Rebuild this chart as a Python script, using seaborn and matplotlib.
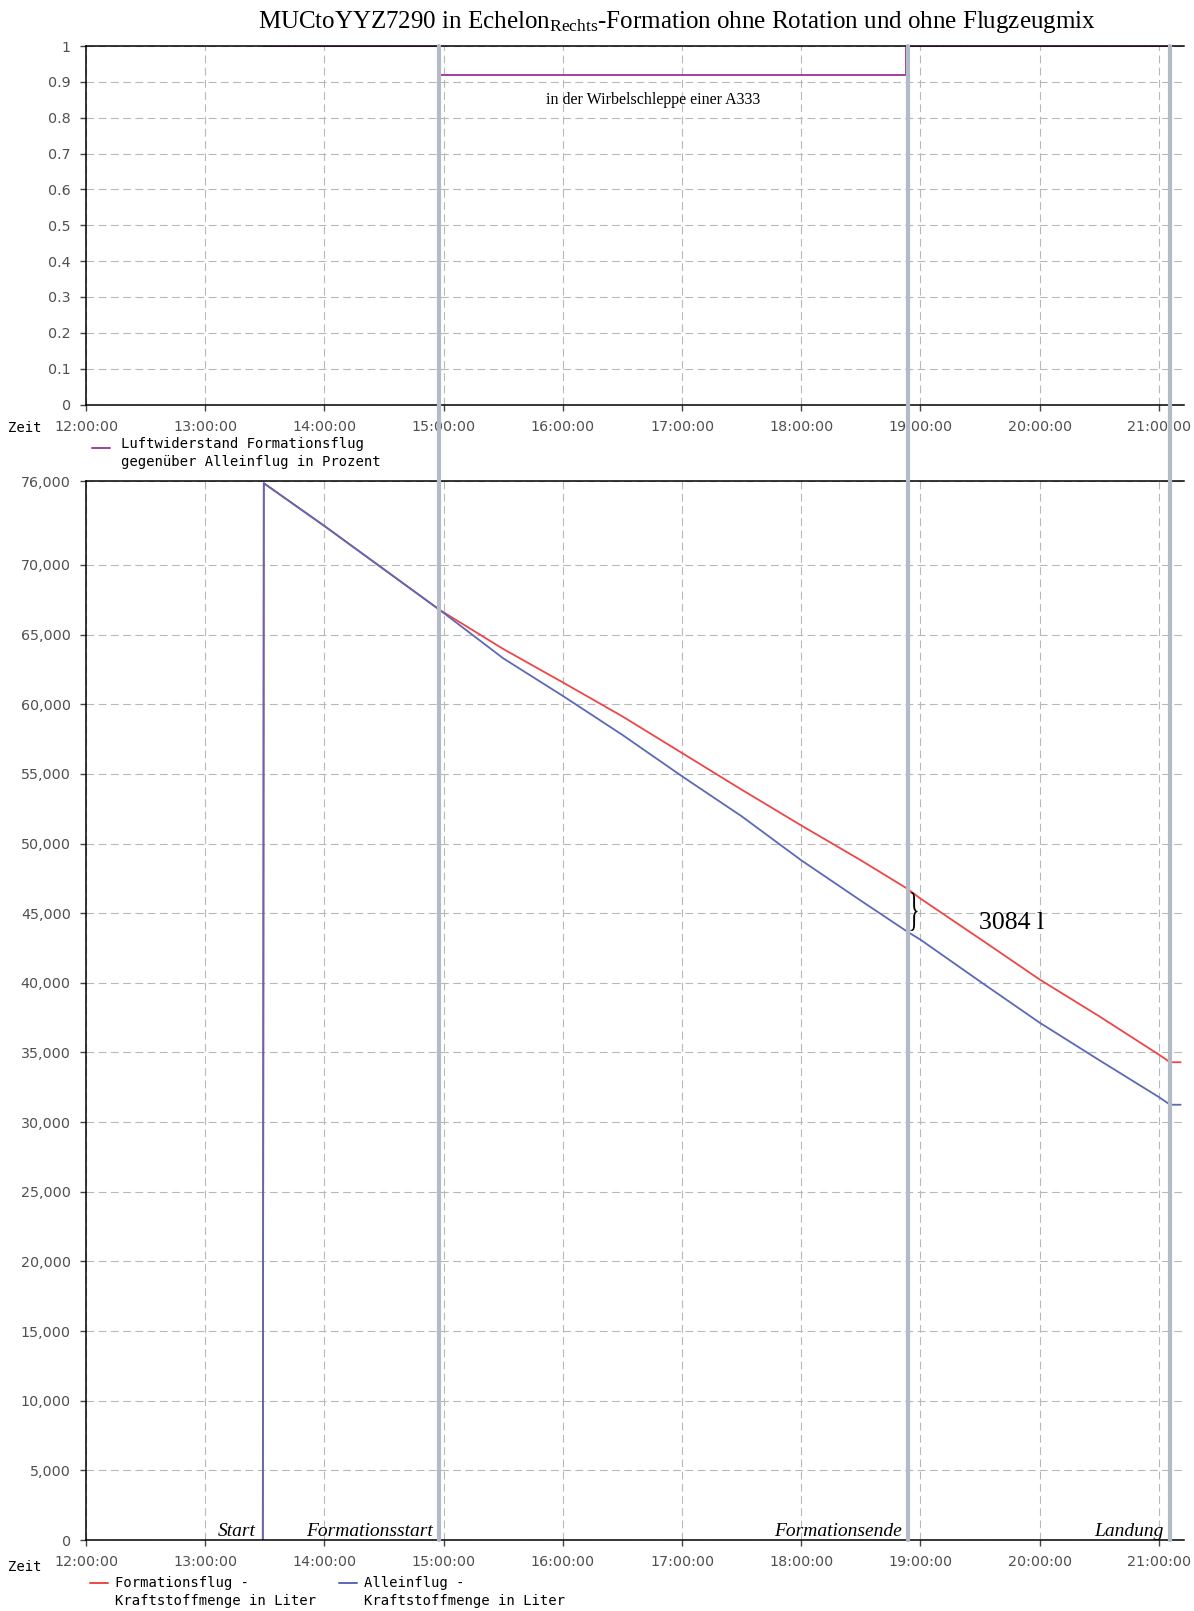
import pandas as pd
import matplotlib
matplotlib.use("Agg")
import matplotlib.pyplot as plt
import matplotlib.transforms as mtransforms
from matplotlib.lines import Line2D
from matplotlib.textpath import TextPath
from matplotlib.patches import PathPatch
from matplotlib.font_manager import FontProperties
from matplotlib.ticker import FixedLocator, FuncFormatter
import seaborn as sns

# ---- data ---------------------------------------------------------------
titel = "MUCtoYYZ7290 in Echelon$_{\\mathrm{Rechts}}$-Formation ohne Rotation und ohne Flugzeugmix"

# drag ratio in formation vs. solo flight
luftwiderstand_zeit = ["13:29:30", "14:58:00", "18:52:30", "21:05:40"]
luftwiderstand = [1.0, 0.92, 1.0, 1.0]

# remaining fuel (litres)
kraftstoff_zeit = ["13:29:00", "13:29:30", "14:00:00", "14:57:45", "15:30:00", "16:00:00",
                   "16:30:00", "17:00:00", "17:30:00", "18:00:00", "18:30:00", "18:53:30",
                   "19:00:00", "19:30:00", "20:00:00", "20:30:00", "21:00:00", "21:05:40",
                   "21:11:00"]
formationsflug_liter = [0, 75870, 72800, 66800, 63970, 61570, 59130, 56500, 53870, 51300,
                        48800, 46750, 46050, 43160, 40240, 37600, 34850, 34300, 34300]
alleinflug_liter = [0, 75870, 72800, 66800, 63300, 60600, 57800, 54830, 51960, 48800,
                    45900, 43666, 43100, 40100, 37140, 34450, 31800, 31250, 31250]

ereignis_zeit = ["14:57:45", "18:53:30", "21:05:40"]
ereignis_namen = ["Formationsstart", "Formationsende", "Landung"]
start_name = "Start"

x_stunden = list(range(12, 22))
y_ticks_oben = [0, 0.1, 0.2, 0.3, 0.4, 0.5, 0.6, 0.7, 0.8, 0.9, 1.0]
y_ticks_unten = [0, 5000, 10000, 15000, 20000, 25000, 30000, 35000, 40000, 45000,
                 50000, 55000, 60000, 65000, 70000, 76000]

legende_oben = ["Luftwiderstand Formationsflug", "gegenüber Alleinflug in Prozent"]
legende_rot = ["Formationsflug -", "Kraftstoffmenge in Liter"]
legende_blau = ["Alleinflug -", "Kraftstoffmenge in Liter"]
wirbel_text = "in der Wirbelschleppe einer A333"

# ---- style --------------------------------------------------------------
ROT = "#ee4646"
BLAU = "#5c68b8"
LILA = "#a040a0"
GRAU_LINIE = "#b3bbc6"
GRID = "#b8b8b8"
TICK_TXT = "#505050"

sns.set_theme(style="white")
plt.rcParams["font.family"] = ["DejaVu Sans"]
plt.rcParams["mathtext.fontset"] = "custom"
plt.rcParams["mathtext.rm"] = "Liberation Serif"
plt.rcParams["mathtext.it"] = "Liberation Serif:italic"


def to_hours(werte):
    return (pd.to_timedelta(pd.Series(werte)).dt.total_seconds() / 3600.0).to_numpy()


W, H = 1194, 1611
fig = plt.figure(figsize=(W / 100, H / 100), dpi=100)


def rect(left, top, right, bottom):
    return [left / W, 1 - bottom / H, (right - left) / W, (bottom - top) / H]


ax_top = fig.add_axes(rect(86, 46, 1184, 404.5))
ax_bot = fig.add_axes(rect(86, 481.4, 1184, 1540))

x_min, x_max = 12.0, 21.211

# ---- upper panel: drag ratio --------------------------------------------
df_lw = pd.DataFrame({"zeit": to_hours(luftwiderstand_zeit), "wert": luftwiderstand})
sns.lineplot(data=df_lw, x="zeit", y="wert", ax=ax_top, color=LILA, lw=1.4,
             drawstyle="steps-post", legend=False)
ax_top.set_ylim(0, 1)
ax_top.yaxis.set_major_locator(FixedLocator(y_ticks_oben))
ax_top.yaxis.set_major_formatter(FuncFormatter(lambda v, p: "1" if v == 1 else ("0" if v == 0 else f"{v:.1f}")))
ax_top.text(16.757, 0.85, wirbel_text, ha="center", va="center",
            family="Liberation Serif", fontsize=11.5, color="black")

# ---- lower panel: fuel ---------------------------------------------------
t_kraft = to_hours(kraftstoff_zeit)
df_k = pd.concat([
    pd.DataFrame({"zeit": t_kraft, "liter": formationsflug_liter, "serie": "Formationsflug"}),
    pd.DataFrame({"zeit": t_kraft, "liter": alleinflug_liter, "serie": "Alleinflug"}),
])
sns.lineplot(data=df_k, x="zeit", y="liter", hue="serie", ax=ax_bot,
             hue_order=["Formationsflug", "Alleinflug"], palette=[ROT, BLAU],
             lw=1.3, legend=False, estimator=None, sort=False)
ax_bot.set_ylim(0, 76000)
ax_bot.yaxis.set_major_locator(FixedLocator(y_ticks_unten))
ax_bot.yaxis.set_major_formatter(FuncFormatter(lambda v, p: f"{int(round(v)):,}"))

for ax in (ax_top, ax_bot):
    ax.set_xlim(x_min, x_max)
    ax.xaxis.set_major_locator(FixedLocator(x_stunden))
    ax.xaxis.set_major_formatter(FuncFormatter(lambda v, p: f"{int(round(v)):02d}:00:00"))
    ax.set_xlabel("")
    ax.set_ylabel("")
    ax.set_axisbelow(True)
    ax.grid(True, color=GRID, linestyle=(0, (7, 4)), linewidth=0.8)
    ax.tick_params(axis="both", bottom=True, left=True, length=4, width=1,
                   color="#444444", labelcolor=TICK_TXT, labelsize=10.3)
    ax.tick_params(axis="x", pad=7)
    ax.tick_params(axis="y", pad=7)
    for side in ("left", "bottom", "top"):
        ax.spines[side].set_visible(True)
        ax.spines[side].set_color("black")
        ax.spines[side].set_linewidth(1.1)
    ax.spines["right"].set_visible(False)
    ax.patch.set_facecolor("white")

# ---- event markers spanning both panels ----------------------------------
ereignis_h = to_hours(ereignis_zeit)
blend = mtransforms.blended_transform_factory(ax_bot.transData, fig.transFigure)
for t in ereignis_h:
    fig.add_artist(Line2D([t, t], [1 - 46 / H, 1 - 1540 / H], transform=blend,
                          color=GRAU_LINIE, lw=3, zorder=5))

label_font = dict(family="Liberation Serif", style="italic", fontsize=14, color="black")
ax_bot.annotate(start_name, xy=(t_kraft[1], 0), xytext=(-8, 4), textcoords="offset pixels",
                ha="right", va="baseline", **label_font)
for t, name in zip(ereignis_h, ereignis_namen):
    ax_bot.annotate(name, xy=(t, 0), xytext=(-6, 4), textcoords="offset pixels",
                    ha="right", va="baseline", **label_font)

# ---- fuel saving at end of formation --------------------------------------
i_end = kraftstoff_zeit.index(ereignis_zeit[1])
rot_end = formationsflug_liter[i_end]
blau_end = alleinflug_liter[i_end]
differenz = rot_end - blau_end
t_end = ereignis_h[1]

fig.canvas.draw()
px, py_lo = ax_bot.transData.transform((t_end, blau_end))
_, py_hi = ax_bot.transData.transform((t_end, rot_end))
brace = TextPath((0, 0), "}", size=100, prop=FontProperties(family="Liberation Serif"))
ext = brace.get_extents()
span = py_hi - py_lo
brace_tr = (mtransforms.Affine2D()
            .translate(-ext.x0, -ext.y0)
            .scale(7.0 / ext.width, span * 0.9 / ext.height)
            .translate(px + 3, py_lo + span * 0.02))
fig.add_artist(PathPatch(brace, transform=brace_tr, facecolor="black", edgecolor="none", zorder=6))

ax_bot.annotate(f"{differenz} l", xy=(t_end, (rot_end + blau_end) / 2), xytext=(71, -13),
                textcoords="offset pixels", ha="left", va="center",
                family="Liberation Serif", fontsize=18.5, color="black")

# ---- title, axis captions, legends ---------------------------------------
fig.text(677 / W, 1 - 22 / H, titel, ha="center", va="center",
         family="Liberation Serif", fontsize=18, color="black")

mono = dict(family="DejaVu Sans Mono", fontsize=10, color="black")
fig.text(8 / W, 1 - 427.5 / H, "Zeit", ha="left", va="center", **mono)
fig.text(8 / W, 1 - 1567 / H, "Zeit", ha="left", va="center", **mono)


def legend_entry(x_line, y_line, x_text, y_first, farbe, zeilen):
    fig.add_artist(Line2D([x_line / W, (x_line + 18) / W], [1 - y_line / H] * 2,
                          transform=fig.transFigure, color=farbe, lw=1.4))
    for k, zeile in enumerate(zeilen):
        fig.text(x_text / W, 1 - (y_first + 18 * k) / H, zeile, ha="left", va="center", **mono)


legend_entry(92, 448, 121, 444, LILA, legende_oben)
legend_entry(90, 1583, 115, 1583, ROT, legende_rot)
legend_entry(339, 1583, 364, 1583, BLAU, legende_blau)

fig.savefig("out.png", dpi=100, facecolor="white")
